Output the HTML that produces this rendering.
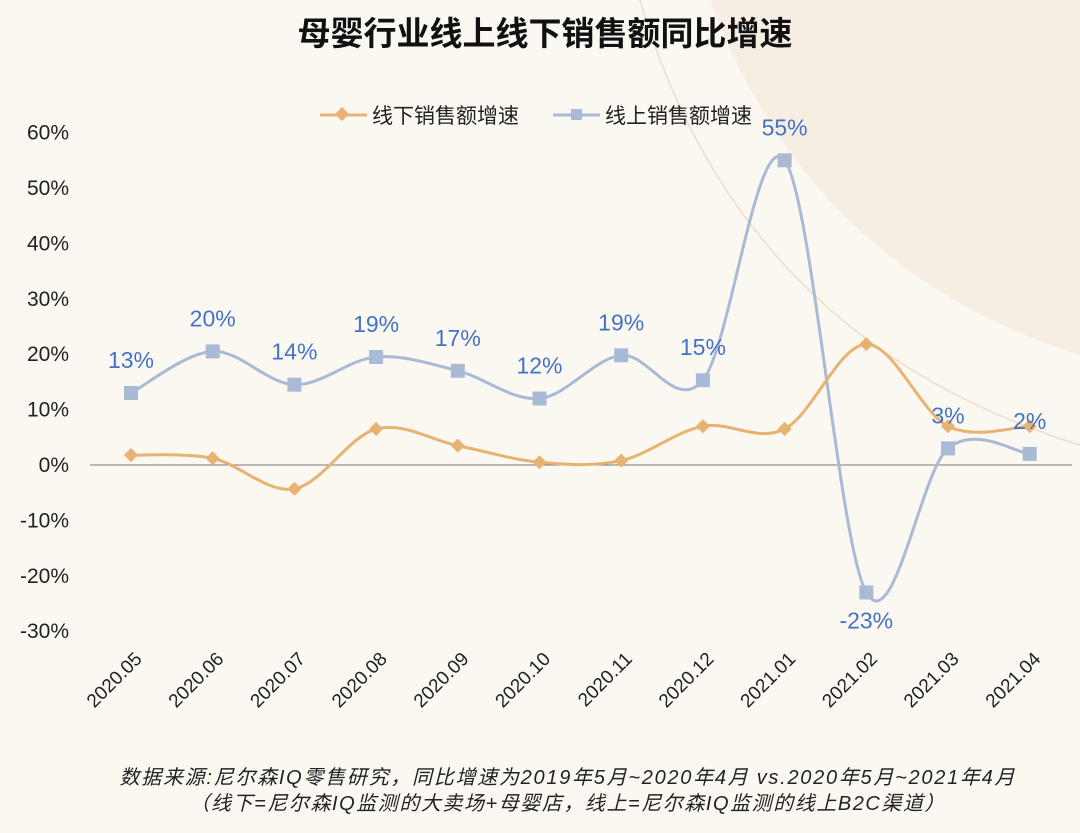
<!DOCTYPE html>
<html><head><meta charset="utf-8"><style>
body{margin:0;background:#fbf8f2;font-family:"Liberation Sans","Noto Sans CJK SC",sans-serif}
#wrap{position:relative;width:1080px;height:833px;overflow:hidden}
svg{position:absolute;left:0;top:0}
</style></head><body>
<div id="wrap">
<svg id="c" width="1080" height="833">
<path d="M710,0 Q 810,270 1080,355 L1080,0 Z" fill="#f6eee3"/>
<path d="M640,0 Q 740,340 1080,445" fill="none" stroke="#f0dcc6" stroke-width="1.5"/>
<text x="545" y="45" text-anchor="middle" font-size="33" font-weight="bold" fill="#111">母婴行业线上线下销售额同比增速</text>
<g>
<g>
<line x1="320" y1="115" x2="367" y2="115" stroke="#e8b272" stroke-width="3"/>
<rect x="337" y="109" width="10" height="10" fill="#e8b272" transform="rotate(45 342 114)"/>
<text x="372" y="123" font-size="21" fill="#222">线下销售额增速</text></g>
<g>
<line x1="553" y1="115" x2="600" y2="115" stroke="#a9bad6" stroke-width="3"/>
<rect x="571" y="109" width="11" height="11" fill="#a9bad6"/>
<text x="605" y="123" font-size="21" fill="#222">线上销售额增速</text></g>
</g>
<g id="yaxis"></g>
<g id="xaxis"></g>
<g id="plot"></g>
<text x="567" y="784" text-anchor="middle" font-size="20" font-style="italic" fill="#222" textLength="895">数据来源:尼尔森IQ零售研究，同比增速为2019年5月~2020年4月 vs.2020年5月~2021年4月</text>
<text x="567" y="810" text-anchor="middle" font-size="20" font-style="italic" fill="#222" textLength="755">（线下=尼尔森IQ监测的大卖场+母婴店，线上=尼尔森IQ监测的线上B2C渠道）</text>
</svg></div>
<script>
const categories=["2020.05","2020.06","2020.07","2020.08","2020.09","2020.10","2020.11","2020.12","2021.01","2021.02","2021.03","2021.04"];
const offline=[1.8,1.2,-4.3,6.5,3.5,0.5,0.8,7,6.5,21.8,7,7];
const online=[13,20.5,14.5,19.5,17,12,19.8,15.3,55,-23,3,2];
const onlineLabels=["13%","20%","14%","19%","17%","12%","19%","15%","55%","-23%","3%","2%"];
const yTicks=[60,50,40,30,20,10,0,-10,-20,-30];
const NS="http://www.w3.org/2000/svg";
const x=i=>131+i*81.7;
const y=v=>465-v*5.54;
function mk(t,a,p){const e=document.createElementNS(NS,t);for(const k in a)e.setAttribute(k,a[k]);(p||document.getElementById('plot')).appendChild(e);return e;}
const ya=document.getElementById('yaxis'),xa=document.getElementById('xaxis');
yTicks.forEach(v=>{const t=mk('text',{x:69,y:y(v)+7,'text-anchor':'end','font-size':21,fill:'#222'},ya);t.textContent=v+'%';

});
const zl=mk('line',{x1:90,x2:1072,y1:y(0),y2:y(0),stroke:'#777','stroke-width':1},xa);


categories.forEach((c,i)=>{const t=mk('text',{x:x(i)+12,y:660,'text-anchor':'end','font-size':19,fill:'#222',transform:`rotate(-45 ${x(i)+12} 660)`},xa);t.textContent=c;

});
function curve(vals){const p=vals.map((v,i)=>[x(i),y(v)]);let d=`M${p[0][0]},${p[0][1]}`;
for(let i=0;i<p.length-1;i++){const p0=p[i-1]||p[i],p1=p[i],p2=p[i+1],p3=p[i+2]||p2;
d+=` C${p1[0]+(p2[0]-p0[0])/6},${p1[1]+(p2[1]-p0[1])/6} ${p2[0]-(p3[0]-p1[0])/6},${p2[1]-(p3[1]-p1[1])/6} ${p2[0]},${p2[1]}`;}return d;}
const lo=mk('path',{d:curve(online),fill:'none',stroke:'#a9bad6','stroke-width':3});


const lf=mk('path',{d:curve(offline),fill:'none',stroke:'#e8b272','stroke-width':3});


offline.forEach((v,i)=>{const r=mk('rect',{x:x(i)-5,y:y(v)-5,width:10,height:10,fill:'#e8b272',transform:`rotate(45 ${x(i)} ${y(v)})`});

});
online.forEach((v,i)=>{const r=mk('rect',{x:x(i)-7,y:y(v)-7,width:14,height:14,fill:'#a9bad6'});


const ly=v<0?y(v)+36:y(v)-25;
const t=mk('text',{x:x(i),y:ly,'text-anchor':'middle','font-size':23,fill:'#4472c4'});t.textContent=onlineLabels[i];

});
</script></body></html>
